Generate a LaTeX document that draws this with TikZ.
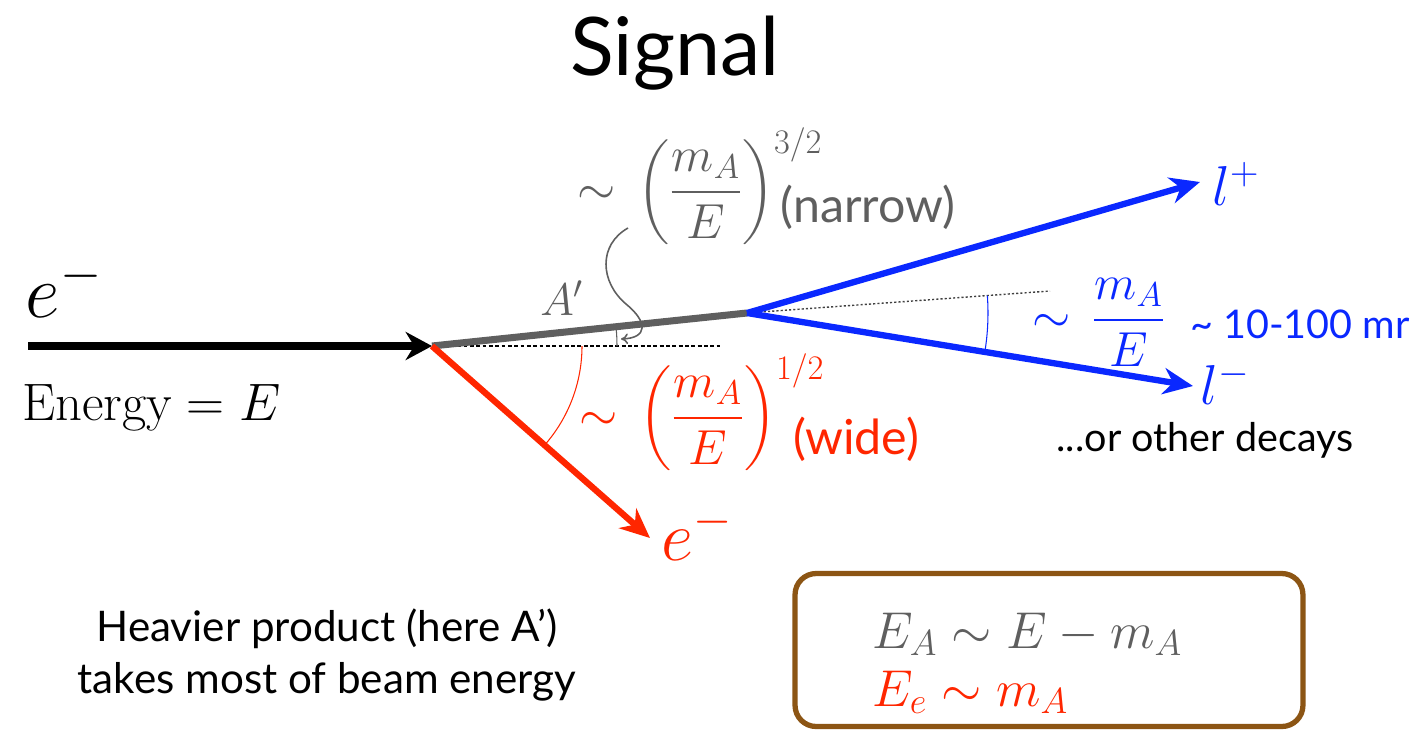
\RequirePackage{fix-cm}
\documentclass[tikz,border=0pt]{standalone}
\usepackage{amsmath}
\usepackage{fontspec}
\newfontfamily\gillfont{Lato}
\usetikzlibrary{positioning,arrows.meta,calc}
\definecolor{sigred}{RGB}{255,38,0}
\definecolor{sigblue}{RGB}{10,40,255}
\definecolor{siggray}{RGB}{95,95,95}
\definecolor{sigbrown}{RGB}{140,85,20}
\tikzset{
  beam/.style={-{Stealth[length=15pt,width=16pt]},line width=4.5pt,black},
  recoil/.style={-{Stealth[length=17pt,width=15pt]},line width=3.6pt,sigred},
  lepton/.style={-{Stealth[length=17pt,width=15pt]},line width=3.6pt,sigblue},
  heavy/.style={line width=4pt,siggray},
  refline/.style={black,line width=0.6pt,dash pattern=on 2.2pt off 1.4pt},
  refdots/.style={black!75,line width=0.8pt,dash pattern=on 1.2pt off 1.2pt},
  anglemark/.style={line width=0.6pt},
  sanslabel/.style={font=\gillfont\fontsize{24}{30}\selectfont},
  biglabel/.style={font=\gillfont\fontsize{27.5}{32}\selectfont},
  mathlabel/.style={font=\fontsize{28}{32}\selectfont},
}

\begin{document}
\begin{tikzpicture}[x=0.02cm,y=-0.02cm]
  \useasboundingbox (0,0) rectangle (1428,731);
  % title
  \node[font=\gillfont\fontsize{46}{50}\selectfont] (title) at (675,53) {Signal};
  % vertices
  \coordinate (vtx) at (432,346);
  \coordinate (dec) at (747,313);
  \coordinate (beamstart) at (28,346);
  \coordinate (recoilend) at (650,538);
  \coordinate (lplus) at (1200,182);
  \coordinate (lminus) at (1193,386);
  \coordinate (dashend) at (720,346);
  \coordinate (dotend) at (1050,291);
  % incoming beam
  \draw[beam] (beamstart) -- (vtx);
  \node[font=\fontsize{43}{46}\selectfont] (ein) at (64,288) {$e^{-}$};
  \node[font=\fontsize{30}{34}\selectfont,anchor=west] (energy) at (16,408) {Energy${}=E$};
  % reference lines
  \draw[refline] (vtx) -- (dashend);
  \draw[refdots] (dec) -- (dotend);
  % A' and its decay
  \draw[heavy] (vtx) -- (dec);
  \node[font=\fontsize{26}{30}\selectfont,siggray] (aprime) at (562,298) {$A'$};
  \draw[lepton] (dec) -- (lplus);
  \draw[lepton] (dec) -- (lminus);
  \node[font=\fontsize{32}{36}\selectfont,sigblue] (lp) at (1236,184) {$l^{+}$};
  \node[font=\fontsize{32}{36}\selectfont,sigblue] (lm) at (1225,383) {$l^{-}$};
  % recoil electron
  \draw[recoil] (vtx) -- (recoilend);
  \node[font=\fontsize{40}{44}\selectfont,sigred] (eout) at (697,533) {$e^{-}$};
  % opening angles
  \draw[anglemark,siggray] ($(vtx)+(185,0)$) arc[start angle=0,end angle=-5.8,radius=185];
  \draw[anglemark,sigred] ($(vtx)+(150,0)$) arc[start angle=0,end angle=41.4,radius=150];
  \draw[anglemark,sigblue] ($(dec)+(-4.15:241)$) arc[start angle=-4.15,end angle=9.2,radius=241];
  % labels of the angles
  \node[mathlabel,siggray,anchor=west] (narrowf) at (571,186)
    {$\sim\,\displaystyle\left(\frac{m_A}{E}\right)^{3/2}$};
  \node[biglabel,siggray] (narrow) at (868,207) {(narrow)};
  \coordinate (narrowtail) at (628,228);
  \coordinate (narrowtip) at (621,339);
  \draw[siggray,line width=0.9pt,-{To[length=4pt,width=6pt]}] (narrowtail)
    .. controls (598,245) and (600,282) .. (626,304)
    .. controls (648,322) and (648,338) .. (narrowtip);
  \node[mathlabel,sigred,anchor=west] (widef) at (573,412)
    {$\sim\,\displaystyle\left(\frac{m_A}{E}\right)^{1/2}$};
  \node[biglabel,sigred] (wide) at (856,439) {(wide)};
  \node[mathlabel,sigblue,anchor=west] (decf) at (1026,322) {$\sim\,\displaystyle\frac{m_A}{E}$};
  \node[font=\gillfont\fontsize{22.5}{28}\selectfont,sigblue,anchor=west] (mr) at (1184,324)
    {\textasciitilde{} 10-100 mr};
  \node[font=\gillfont\fontsize{22.5}{28}\selectfont] (others) at (1205,440) {...or other decays};
  % notes
  \node[sanslabel,align=center] (note) at (327,655)
    {Heavier product (here A’)\\takes most of beam energy};
  \node[draw=sigbrown,line width=3pt,rounded corners=12pt,minimum width=10.16cm,
    minimum height=3.06cm] (ebox) at (1049,650) {};
  \node[font=\fontsize{29.5}{34}\selectfont,siggray,anchor=base west] (ea) at (866,648) {$E_A\sim E-m_A$};
  \node[font=\fontsize{29.5}{34}\selectfont,sigred,anchor=base west] (ee) at (866,706) {$E_e\sim m_A$};
\end{tikzpicture}
\end{document}
